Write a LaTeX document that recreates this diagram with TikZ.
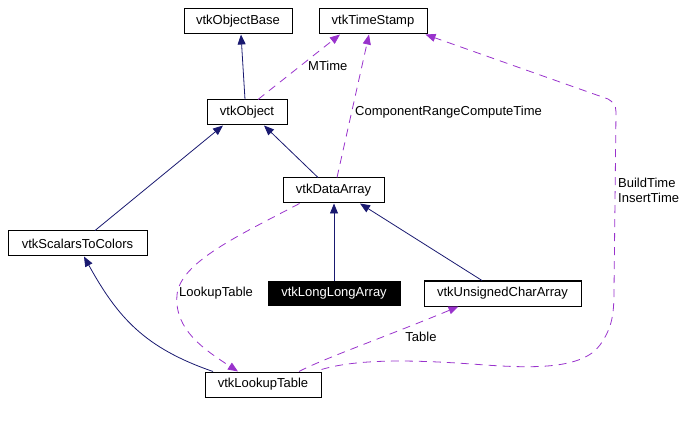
\documentclass[tikz,border=0pt]{standalone}
\usepackage{fontspec}
\setmainfont{Liberation Sans}
\usetikzlibrary{arrows.meta}
\definecolor{inhcol}{RGB}{25,25,112}
\definecolor{usecol}{RGB}{153,50,204}
\begin{document}
\begin{tikzpicture}[x=1pt,y=-1pt,
  cls/.style={draw=black,line width=1pt,minimum height=25pt,inner sep=0pt,font=\fontsize{13}{15}\selectfont,fill=white},
  cur/.style={cls,fill=black,text=white,minimum height=24pt},
  inh/.style={draw=inhcol,line width=0.8pt,-{Triangle[length=10pt,width=8pt]}},
  use/.style={draw=usecol,line width=0.8pt,dash pattern=on 8pt off 6pt,-{Triangle[length=10pt,width=8pt,fill=usecol]}},
  lbl/.style={font=\fontsize{13}{15}\selectfont,inner sep=0pt,align=left}]
\useasboundingbox (0,0) rectangle (687,435);
\node[cls,minimum width=108pt] (ob)  at (238,21.5)  {vtkObjectBase};
\node[cls,minimum width=108pt] (ts)  at (373,21.5)  {vtkTimeStamp};
\node[cls,minimum width=80pt]  (obj) at (247,112.5) {vtkObject};
\node[cls,minimum width=101pt] (da)  at (333.5,190.5) {vtkDataArray};
\node[cls,minimum width=139pt] (stc) at (77.5,243.5) {vtkScalarsToColors};
\node[cur,minimum width=132pt] (lla) at (334,293.5) {vtkLongLongArray};
\node[cls,minimum width=157pt] (uca) at (502.5,293.5) {vtkUnsignedCharArray};
\node[cls,minimum width=116pt] (lt)  at (263,384.5) {vtkLookupTable};
% inheritance
\draw[inh] ([xshift=-2pt]obj.north) -- ([xshift=3pt]ob.south);
\draw[inh] ([xshift=-15.5pt]da.north) -- ([xshift=17pt]obj.south);
\draw[inh] ([xshift=17.5pt]stc.north) -- ([xshift=-24pt]obj.south);
\draw[inh] (lla.north) -- ([xshift=0.5pt]da.south);
\draw[inh] ([xshift=-20.5pt]uca.north) -- ([xshift=26.5pt]da.south);
\draw[inh] ([xshift=-50pt]lt.north) .. controls (145,348) and (118,318) .. ([xshift=6.5pt]stc.south);
% usage
\draw[use] ([xshift=11pt]obj.north) -- ([xshift=-33pt]ts.south);
\node[lbl,anchor=west] (lmt) at (308,66) {MTime};
\draw[use] ([xshift=3.5pt]da.north) -- ([xshift=-4pt]ts.south);
\node[lbl,anchor=west] (lcr) at (355,112) {ComponentRangeComputeTime};
\draw[use] ([xshift=-34pt]da.south) .. controls (240,235) and (180,262) .. (177,295)
  .. controls (174,330) and (205,350) .. ([xshift=-25pt]lt.north);
\node[lbl,anchor=west] (llt) at (179,293) {LookupTable};
\draw[use] ([xshift=36pt]lt.north) .. controls (320,360) and (390,335) .. ([xshift=-44pt]uca.south);
\node[lbl] (ltb) at (421,337) {Table};
\draw[use] ([yshift=2pt]lt.north east) .. controls (360,358) and (420,360) .. (485,365)
  .. controls (530,368) and (582,370) .. (600,345)
  .. controls (612,328) and (614,315) .. (614,290)
  -- (616,112) .. controls (616,105) and (613,102) .. (608,99)
  -- ([xshift=-2pt]ts.south east);
\node[lbl,anchor=west] (lbi) at (618,190.5) {BuildTime\\InsertTime};
\end{tikzpicture}
\end{document}
